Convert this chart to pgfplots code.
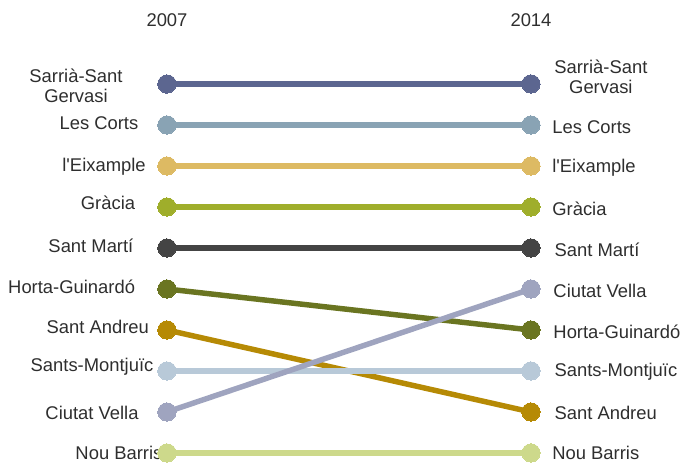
\documentclass[border=0pt]{standalone}
\usepackage{fontspec}
\setmainfont{Liberation Sans}
\usepackage{pgfplots}
\pgfplotsset{compat=1.18}
\definecolor{cSarria}{HTML}{5C6690}
\definecolor{cCorts}{HTML}{89A3B4}
\definecolor{cEix}{HTML}{DDBA63}
\definecolor{cGracia}{HTML}{9FAE2B}
\definecolor{cMarti}{HTML}{444444}
\definecolor{cHorta}{HTML}{6A7521}
\definecolor{cAndreu}{HTML}{B68A05}
\definecolor{cSants}{HTML}{B8C9D8}
\definecolor{cCiutat}{HTML}{9FA4BF}
\definecolor{cNou}{HTML}{CDD98B}
\definecolor{txt}{HTML}{2E2E2E}
\tikzset{lbl/.style={font=\fontsize{13.8}{15}\selectfont, text=txt, align=center, inner sep=0pt}}
\begin{document}
\begin{tikzpicture}
\begin{axis}[
  scale only axis, width=273pt, height=276.75pt,
  xmin=0, xmax=1, ymin=1, ymax=10, y dir=reverse,
  enlargelimits=false, hide axis, clip=false,
  every axis plot/.append style={line width=4.1pt, mark=*, mark size=6.9pt, mark options={solid, line width=0pt}},
]
\addplot[cSarria] coordinates {(0,1) (1,1)};
\addplot[cCorts] coordinates {(0,2) (1,2)};
\addplot[cEix] coordinates {(0,3) (1,3)};
\addplot[cGracia] coordinates {(0,4) (1,4)};
\addplot[cMarti] coordinates {(0,5) (1,5)};
\addplot[cHorta] coordinates {(0,6) (1,7)};
\addplot[cAndreu] coordinates {(0,7) (1,9)};
\addplot[cSants] coordinates {(0,8) (1,8)};
\addplot[cCiutat] coordinates {(0,9) (1,6)};
\addplot[cNou] coordinates {(0,10) (1,10)};
% years
\node[lbl] at (axis cs:0,-0.56) {2007};
\node[lbl] at (axis cs:1,-0.56) {2014};
% left labels
\node[lbl] at (axis cs:-0.250,1.05) {Sarrià-Sant\\Gervasi};
\node[lbl] at (axis cs:-0.187,1.95) {Les Corts};
\node[lbl] at (axis cs:-0.173,3.02) {l\textquotesingle Eixample};
\node[lbl] at (axis cs:-0.162,3.90) {Gràcia};
\node[lbl] at (axis cs:-0.209,4.95) {Sant Martí};
\node[lbl] at (axis cs:-0.262,5.95) {Horta-Guinardó};
\node[lbl] at (axis cs:-0.190,6.93) {Sant Andreu};
\node[lbl] at (axis cs:-0.206,7.90) {Sants-Montjuïc};
\node[lbl] at (axis cs:-0.206,9.02) {Ciutat Vella};
\node[lbl] at (axis cs:-0.132,10.0) {Nou Barris};
% right labels
\node[lbl] at (axis cs:1.192,0.83) {Sarrià-Sant\\Gervasi};
\node[lbl,anchor=west] at (axis cs:1.058,2.05) {Les Corts};
\node[lbl,anchor=west] at (axis cs:1.058,3.05) {l\textquotesingle Eixample};
\node[lbl,anchor=west] at (axis cs:1.058,4.05) {Gràcia};
\node[lbl,anchor=west] at (axis cs:1.064,5.05) {Sant Martí};
\node[lbl,anchor=west] at (axis cs:1.061,6.05) {Ciutat Vella};
\node[lbl,anchor=west] at (axis cs:1.061,7.05) {Horta-Guinardó};
\node[lbl,anchor=west] at (axis cs:1.064,8.02) {Sants-Montjuïc};
\node[lbl,anchor=west] at (axis cs:1.064,9.02) {Sant Andreu};
\node[lbl,anchor=west] at (axis cs:1.058,10.0) {Nou Barris};
\end{axis}
\pgfresetboundingbox
\path (-125.25pt,-7.5pt) rectangle (387pt,339.75pt);
\end{tikzpicture}
\end{document}
